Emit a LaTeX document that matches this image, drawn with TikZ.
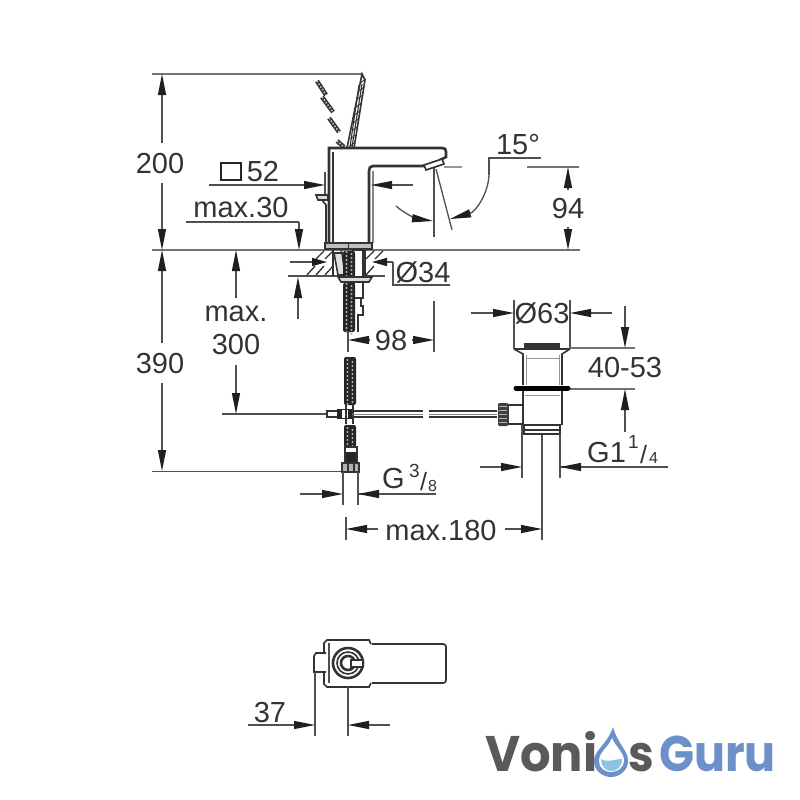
\documentclass[tikz,border=0pt]{standalone}
\usepackage{fontspec}
\setmainfont{Liberation Sans}
\newfontfamily\logofont{Poppins}
\usetikzlibrary{arrows.meta}
\definecolor{ink}{HTML}{333333}
\definecolor{dimc}{HTML}{505050}
\definecolor{logogray}{HTML}{5A5A5A}
\definecolor{logoblue}{HTML}{6E90C8}
\definecolor{dropblue}{HTML}{8CC4E4}
\tikzset{
  dimline/.style={draw=dimc,line width=1.3pt},
  extline/.style={draw=dimc!80,line width=1.7pt},
  dimarrow/.style={dimline,-{Triangle[length=21pt,width=8pt,color=black!88]}},
  shortarrow/.style={dimline,-{Triangle[length=15pt,width=8pt,color=black!88]}},
  outline/.style={draw=ink,line width=1.6pt},
  heavy/.style={draw=ink,line width=2.6pt},
  label/.style={font=\fontsize{29}{29}\selectfont,text=ink,inner sep=0pt},
  midlabel/.style={font=\fontsize{19}{19}\selectfont,text=ink,inner sep=0pt,anchor=base west},
  slashlabel/.style={font=\fontsize{25}{25}\selectfont,text=ink,inner sep=0pt,anchor=base west},
  smalllabel/.style={font=\fontsize{16}{16}\selectfont,text=ink,inner sep=0pt,anchor=base west},
  logotext/.style={font=\logofont\bfseries\fontsize{50}{50}\selectfont,inner sep=0pt,anchor=base west},
  dashseg/.style={draw=ink,line width=4.4pt},
  dashhole/.style={draw=white!80!black,line width=1.6pt,dash pattern=on 1.4pt off 1.8pt}
}
\newcommand{\hoseseg}[3]{% x centre, y start, y end
  \fill[black!85,rounded corners=2pt] (#1-6,#2) rectangle (#1+6,#3);
  \foreach \yy in {#2,...,#3}{\pgfmathparse{int(mod(\yy,4))}\ifnum\pgfmathresult=0
    \fill[white!70!black] (#1-2.5,\yy) circle (1.2pt);
    \fill[white!70!black] (#1+2.5,\yy+2) circle (1.2pt);\fi}}
\newcommand{\dashpiece}[4]{\draw[dashseg] (#1,#2) -- (#3,#4); \draw[dashhole] (#1,#2) -- (#3,#4);}
\begin{document}
\begin{tikzpicture}[x=1pt,y=-1pt]
\useasboundingbox (0,0) rectangle (800,800);
\fill[white] (0,0) rectangle (800,800);

% datum lines
\draw[extline] (152,74) -- (363,74);
\draw[extline] (152,250) -- (580,250);
\draw[dimline] (152,471.5) -- (345,471.5);

% 200 / 390
\node[label] (n200) at (160,164) {200};
\node[label] (n390) at (160,364) {390};
\draw[dimarrow] (162,143) -- (162,74);
\draw[dimarrow] (162,183) -- (162,250);
\draw[dimarrow] (162,343) -- (162,250);
\draw[dimarrow] (162,383) -- (162,471);

% handle
\path[fill=white,draw=ink,line width=1.6pt] (362,74) -- (365,80) -- (354,148) -- (347,148) -- cycle;
\draw[ink,line width=1.1pt] (359,85) -- (350,147) (362,84) -- (352,147);
\foreach \q in {0,8,...,64}{\draw[ink,line width=.9pt] (349+\q*.18,147-\q) -- (354+\q*.18,143-\q);}
\dashpiece{317}{81}{326}{95}
\dashpiece{322}{97}{333}{112}
\dashpiece{329}{118}{339}{132}
\dashpiece{337}{141}{344}{147}

% body and spout
\draw[heavy] (329,243) -- (329,148) -- (442,148) .. controls (445,148) and (446,149) .. (446,152) -- (446,157) -- (440,160);
\draw[outline] (333,152) -- (333,243);
\draw[heavy] (369,243) -- (369,171) .. controls (369,168) and (370,166) .. (373,166) -- (424,166);
\draw[dimc!70,line width=1.2pt] (373,243) -- (373,171);
\draw[outline,fill=white] (424,165) -- (442,159) -- (444,164) -- (426,170) -- cycle;
\draw[dimc!60,line width=1.6pt] (444,167) -- (462,167);

% 15 degrees
\draw[dimline] (434,168) -- (434,237);
\draw[dimline] (436,169) -- (452,230);
\draw[dimline] (541,158) -- (489,158) -- (489,175);
\draw[dimarrow] (489,175) .. controls (488,195) and (475,212) .. (450,219);
\draw[dimarrow] (396,206) .. controls (405,214) and (418,219) .. (433,221);
\node[label] (n15) at (518,145) {15°};
\draw[extline] (527,167) -- (579,167);
\draw[dimarrow] (568,190) -- (568,167);
\draw[dimarrow] (568,227) -- (568,250);
\node[label] (n94) at (568,209) {94};

% 52
\draw[draw=black!85,line width=2.8pt] (221,163) rectangle (241,180);
\node[label] (n52) at (263,172) {52};
\draw[dimarrow] (209,185) -- (325,185);
\draw[dimarrow] (413,185) -- (371,185);
\draw[dimline] (325,172) -- (325,195);

% pop-up knob
\draw[outline,fill=white!85!black] (316,195) -- (328,195) -- (328,200) -- (318,200) -- cycle;
\draw[outline] (322,200) -- (326,205) -- (326,243);

% max.30
\node[label] (n30) at (241,208) {max.30};
\draw[dimline] (186,222) -- (299,222);
\draw[dimarrow] (299,222) -- (299,250);
\draw[dimarrow] (298,319) -- (298,277);
\draw[dimline] (288,276) -- (385,276);

% counter-top section
\draw[outline,fill=white!75!black] (325,243) rectangle (372,249);
\draw[ink,line width=1pt] (348,243) -- (348,249);
\foreach \a in {316,325,334}{\draw[ink,line width=1.3pt] (\a,259) -- (\a+8,251) (\a-9,275) -- (\a-1,266);}
\foreach \a in {366,375}{\draw[ink,line width=1.3pt] (\a,259) -- (\a+8,251) (\a-9,275) -- (\a-1,266);}
\draw[outline] (333,250) -- (333,276);
\draw[outline] (365,250) -- (365,276);
\draw[dimline] (290,262) -- (312,262);
\draw[shortarrow] (310,262) -- (327,262);
\draw[shortarrow] (393,262) -- (372,262);
\draw[dimline] (393,262) -- (393,285) -- (450,285);
\node[label] (n34) at (423,272) {Ø34};

% stem
\draw[outline,fill=white!88!black] (334,253) -- (342,253) -- (345,275) -- (338,275) -- cycle;
\draw[outline,fill=white] (353,250) rectangle (363,277);
\hoseseg{349}{251}{277}
\draw[outline,fill=white!85!black] (338,277) -- (372,277) -- (369,282) -- (341,282) -- cycle;
\draw[outline,fill=white] (354,282) -- (363,282) -- (363,298) -- (354,298) -- cycle;
\draw[outline,fill=white] (354,298) -- (361,298) -- (361,306) -- (363,306) -- (363,315) -- (358,315) -- (358,332);
\hoseseg{349}{283}{332}
\hoseseg{350}{357}{405}
\hoseseg{350}{425}{447}

% 98
\draw[dimline] (348,332) -- (348,352);
\draw[dimline] (434,301) -- (434,352);
\node[label] (n98) at (391,341) {98};
\draw[dimarrow] (370,340) -- (348,340);
\draw[dimarrow] (412,340) -- (434,340);

% max. 300
\node[label] (nmax) at (236,314) {max.};
\node[label] (n300) at (236,345) {300};
\draw[dimarrow] (236,298) -- (236,250);
\draw[dimarrow] (236,365) -- (236,414);
\draw[dimline] (222,414) -- (330,414);

% tee and rod
\draw[outline,fill=white] (327,411) rectangle (340,417);
\fill[black!85] (337,409) rectangle (353,419);
\fill[white] (342,410) rectangle (348,418);
\draw[outline] (346,404) -- (346,424) (353,404) -- (353,424);
\draw[outline] (352,411) -- (423,411) (352,417) -- (423,417) (429,411) -- (497,411) (429,417) -- (497,417);
\draw[dimc!70,line width=1pt] (352,414) -- (423,414) (429,414) -- (497,414);

% lower connector
\draw[outline,fill=white] (345,447) rectangle (357,463);
\fill[black!85] (346,452) rectangle (356,463);
\fill[white] (348,448) rectangle (354,450);
\draw[outline,fill=white!70!black] (342,463) rectangle (359,472);
\draw[outline] (348,463) -- (348,472) (354,463) -- (354,472);
\draw[dimline] (343,472) -- (343,505) (358,472) -- (358,505);
\draw[dimarrow] (300,494) -- (343,494);
\draw[dimline] (358,494) -- (436,494);
\draw[dimarrow] (381,494) -- (358,494);
\node[label,anchor=base west] (g38) at (382,488) {G};
\node[midlabel] (g38n) at (409,477) {3};
\node[slashlabel] (g38s) at (420,490) {/};
\node[smalllabel] (g38d) at (428,491) {8};

% max.180
\draw[dimline] (346,517) -- (346,540);
\draw[dimline] (542,434) -- (542,540);
\draw[dimarrow] (378,529) -- (346,529);
\draw[dimarrow] (505,529) -- (542,529);
\node[label] (n180) at (441,531) {max.180};

% waste
\draw[dimline] (514,300) -- (514,349) (570,300) -- (570,349);
\node[label] (n63) at (542,313) {Ø63};
\draw[dimarrow] (471,313) -- (514,313);
\draw[dimarrow] (612,313) -- (570,313);
\draw[extline] (570,348) -- (635,348);
\draw[extline] (570,389) -- (635,389);
\node[label] (n4053) at (625,368) {40-53};
\draw[dimarrow] (625,306) -- (625,348);
\draw[dimarrow] (625,432) -- (625,389);

\fill[ink] (524,343) rectangle (560,349);
\draw[outline] (514,349) -- (570,349);
\draw[outline] (514,349) -- (523,354) -- (523,385);
\draw[outline] (570,349) -- (562,354) -- (562,385);
\draw[dimc!60,line width=1pt] (526,358) -- (559,358) (526,355) -- (526,385) (559,355) -- (559,385);
\draw[black,line width=5pt,line cap=round] (516,388) -- (568,388);
\draw[outline] (523,391) -- (523,425) (562,391) -- (562,425);
\draw[dimc!60,line width=1pt] (525,395) -- (560,395);
\draw[outline,fill=white] (524,425) rectangle (560,434);
\draw[outline] (524,430) -- (560,430);

% waste side connection
\draw[outline,fill=white] (508,405) -- (523,405) -- (523,424) -- (508,424) -- cycle;
\fill[black!75,rounded corners=1pt] (498,403) rectangle (508,426);
\foreach \yy in {406,410,...,424}{\draw[white!70!black,line width=.8pt] (499,\yy) -- (507,\yy);}

% G1 1/4
\draw[dimline] (522,425) -- (522,478) (560,434) -- (560,478);
\draw[dimarrow] (480,467) -- (522,467);
\draw[dimline] (560,467) -- (668,467);
\draw[dimarrow] (585,467) -- (560,467);
\node[label,anchor=base west] (g114) at (587,462) {G1};
\node[midlabel] (g114n) at (628,448) {1};
\node[slashlabel] (g114s) at (640,463) {/};
\node[smalllabel] (g114d) at (649,463) {4};

% top view
\draw[outline,fill=white] (372,644) -- (443,644) .. controls (445,644) and (446,645) .. (446,647) -- (446,680) .. controls (446,682) and (445,683) .. (443,683) -- (372,683);
\draw[outline,fill=white] (371,644) -- (369,640) -- (327,640) -- (324,643) -- (324,684) -- (327,687) -- (369,687) -- (371,683);
\draw[dimc,line width=1.2pt] (329,643) -- (329,683);
\draw[outline,fill=white] (326,653) -- (316,653) -- (314,656) -- (314,672) -- (326,672);
\draw[heavy,fill=white] (348,663) circle (15pt);
\draw[outline] (348,663) circle (11pt);
\draw[heavy] (348,663) circle (7pt);
\draw[outline,fill=white] (351,660) rectangle (363,667);
\draw[dimline] (315,672) -- (315,736) (348,687) -- (348,736);
\draw[dimarrow] (248,725) -- (315,725);
\draw[dimarrow] (390,725) -- (348,725);
\node[label] (n37) at (270,713) {37};

% logo
\node[logotext,text=logogray,xscale=.96] (logoa) at (485,771) {Voni};
\node[logotext,text=logogray,xscale=.92] (logob) at (628,771) {s};
\node[logotext,text=logoblue,xscale=.92] (logoc) at (659,771) {Guru};
\path[fill=logoblue] (613,727) .. controls (607,745) and (594,750) .. (594,761) .. controls (594,771) and (603,777) .. (611,777) .. controls (620,777) and (628,770) .. (628,761) .. controls (628,750) and (618,745) .. (613,727) -- cycle;
\path[fill=white] (612,738) .. controls (608,748) and (599,752) .. (599,761) .. controls (599,768) and (605,772) .. (611,772) .. controls (618,772) and (624,767) .. (624,761) .. controls (624,752) and (616,748) .. (612,738) -- cycle;
\path[fill=dropblue] (601,759) .. controls (608,763) and (614,759) .. (622,759) .. controls (622,767) and (617,771) .. (611,771) .. controls (605,771) and (601,766) .. (601,759) -- cycle;
\end{tikzpicture}
\end{document}
